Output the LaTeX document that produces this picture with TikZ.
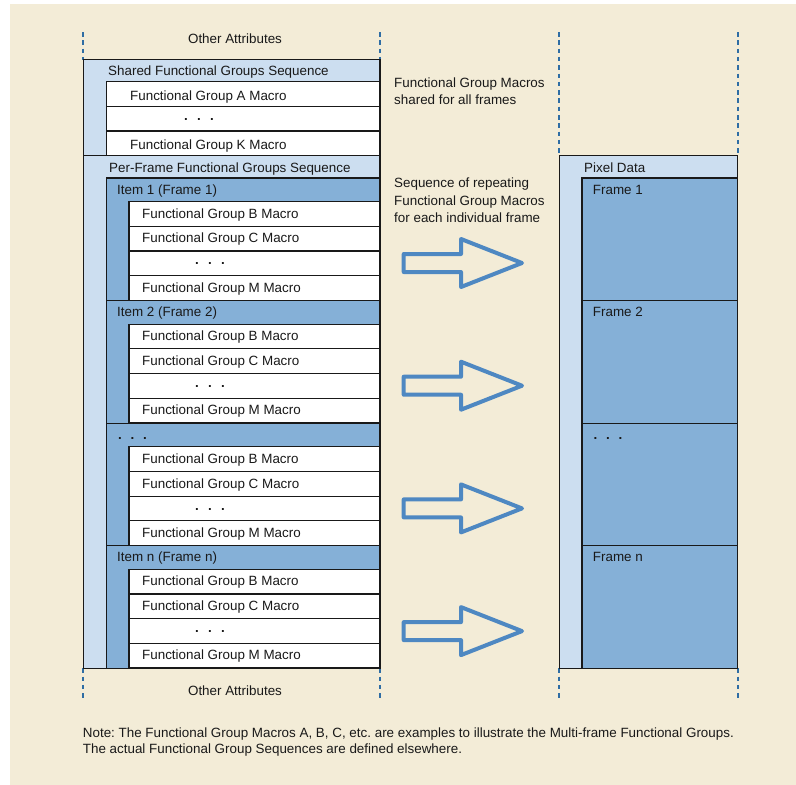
\documentclass[tikz,border=0pt]{standalone}
\usepackage{fontspec}
\setmainfont{Liberation Sans}
\frenchspacing
\definecolor{beige}{RGB}{243,236,215}
\definecolor{lightblue}{RGB}{204,222,240}
\definecolor{midblue}{RGB}{133,176,215}
\definecolor{arrowblue}{RGB}{78,136,194}
\definecolor{dashblue}{RGB}{46,109,164}
\definecolor{edge}{RGB}{25,25,25}
\definecolor{txtc}{RGB}{25,25,25}
\newcommand{\threedots}{\textbf{.\hspace{9.3pt}.\hspace{9.3pt}.}}
\newcommand{\hdrdots}{\textbf{.\hspace{8.8pt}.\hspace{8.8pt}.}}
\begin{document}
\begin{tikzpicture}[x=1pt,y=-1pt,
  txt/.style={inner sep=0pt, anchor=base west, font=\fontsize{13.4}{16}\selectfont, text=txtc},
  ctxt/.style={txt, anchor=base},
  box/.style={draw=edge, line width=1.2pt},
  guide/.style={draw=dashblue, line width=1.8pt, dash pattern=on 4.5pt off 3.8pt},
  bigarrow/.style={draw=arrowblue, line width=4pt, line join=round}]
\useasboundingbox (0,0) rectangle (796,785);
\fill[white] (0,0) rectangle (796,785);
\fill[beige] (10,4) rectangle (796,785);

% guide lines
\foreach \gx in {83.3,380} {
  \draw[guide] (\gx,32) -- (\gx,59.5);
  \draw[guide] (\gx,668.3) -- (\gx,700);
}
\foreach \gx in {559.3,737.7} {
  \draw[guide] (\gx,32) -- (\gx,155.7);
  \draw[guide] (\gx,668.3) -- (\gx,700);
}
\node[ctxt] (othertop) at (235,43) {Other Attributes};
\node[ctxt] (otherbot) at (235,695) {Other Attributes};

% shared sequence
\fill[lightblue] (83.3,59.5) rectangle (380,155.7);
\draw[box] (83.3,59.5) rectangle (380,155.7);
\node[txt] (sharedtitle) at (108,75.7) {Shared Functional Groups Sequence};
\foreach \k in {0,1,2} {
  \pgfmathsetmacro\R{81.7+24.67*\k}
  \draw[box,fill=white] (106.7,\R) rectangle (380,\R+24.67);
}
\node[txt] (grpA) at (130,100) {Functional Group A Macro};
\node[ctxt] (shdots) at (199,120.5) {\threedots};
\node[txt] (grpK) at (130,149) {Functional Group K Macro};

% per-frame sequence
\fill[lightblue] (83.3,155.7) rectangle (380,668.3);
\draw[box] (83.3,155.7) rectangle (380,668.3);
\node[txt] (pftitle) at (109,172) {Per-Frame Functional Groups Sequence};

% pixel data
\fill[lightblue] (559.3,155.7) rectangle (737.7,668.3);
\draw[box] (559.3,155.7) rectangle (737.7,668.3);
\node[txt] (pixtitle) at (584,172.7) {Pixel Data};

\foreach \i in {0,1,2,3} {
  \pgfmathsetmacro\T{178+122.6*\i}
  \fill[midblue] (106.7,\T) rectangle (380,\T+122.6);
  \draw[box] (106.7,\T) rectangle (380,\T+122.6);
  \fill[midblue] (582,\T) rectangle (737.7,\T+122.6);
  \draw[box] (582,\T) rectangle (737.7,\T+122.6);
  \foreach \k in {0,1,2,3} {
    \pgfmathsetmacro\R{\T+23.6+24.65*\k}
    \draw[box,fill=white] (129,\R) rectangle (380,\R+24.65);
  }
  \node[txt] (fgB\i) at (142,\T+40.1) {Functional Group B Macro};
  \node[txt] (fgC\i) at (142,\T+64.8) {Functional Group C Macro};
  \node[ctxt] (fgdots\i) at (210,\T+86.9) {\threedots};
  \node[txt] (fgM\i) at (142,\T+114.1) {Functional Group M Macro};
  % arrow
  \pgfmathsetmacro\C{263+122.7*\i}
  \draw[bigarrow] (403.7,\C-9) -- (461,\C-9) -- (461,\C-24) -- (522,\C)
     -- (461,\C+24) -- (461,\C+9) -- (403.7,\C+9) -- cycle;
}
\node[txt] (item1) at (117,194) {Item 1 (Frame 1)};
\node[txt] (item2) at (117,316.6) {Item 2 (Frame 2)};
\node[txt] (item3) at (118,439.2) {\hdrdots};
\node[txt] (itemn) at (117,561.8) {Item n (Frame n)};
\node[txt] (frame1) at (592.7,194) {Frame 1};
\node[txt] (frame2) at (592.7,316.6) {Frame 2};
\node[txt] (frame3) at (593.5,439.2) {\hdrdots};
\node[txt] (framen) at (592.7,561.8) {Frame n};

% side notes
\node[txt] (sh1) at (394,87.3) {Functional Group Macros};
\node[txt] (sh2) at (394,104.3) {shared for all frames};
\node[txt] (sq1) at (394,187.3) {Sequence of repeating};
\node[txt] (sq2) at (394,205) {Functional Group Macros};
\node[txt] (sq3) at (394,222.7) {for each individual frame};

% note
\node[txt] (note1) at (82.7,737.3) {Note: The Functional Group Macros A, B, C, etc. are examples to illustrate the Multi-frame Functional Groups.};
\node[txt] (note2) at (82.7,753.3) {The actual Functional Group Sequences are defined elsewhere.};
\end{tikzpicture}
\end{document}
